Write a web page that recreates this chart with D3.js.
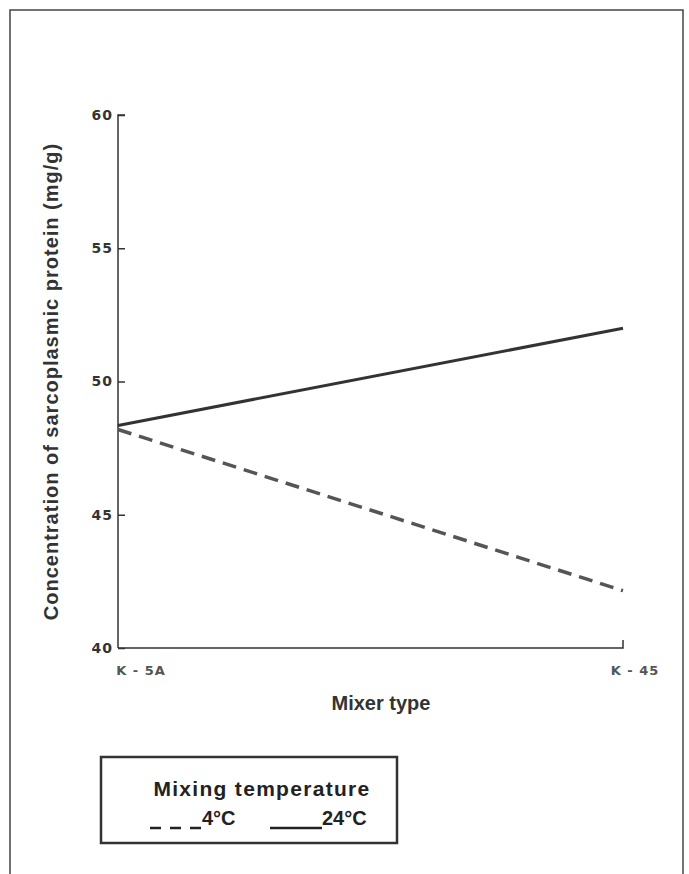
<!DOCTYPE html>
<html>
<head>
<meta charset="utf-8">
<script src="https://cdn.jsdelivr.net/npm/d3@7"></script>
<style>
  body { margin: 0; background: #fff; }
  svg { display: block; font-family: "Liberation Sans", Arial, sans-serif; }
</style>
</head>
<body>
<div id="chart"></div>
<script>
const mixers = ["K-5A", "K-45"];
const temp4 = [48.2, 42.15];
const temp24 = [48.35, 52.0];
const yTicks = [40, 45, 50, 55, 60];

const W = 689, H = 874;
const margin = { top: 115, right: 66, bottom: 226, left: 118 };

const svg = d3.select("#chart").append("svg")
    .attr("width", W)
    .attr("height", H);

// outer frame of the scanned figure
svg.append("path")
    .attr("d", `M10,${H} L10,10 L683,10 L683,${H}`)
    .attr("fill", "none")
    .attr("stroke", "#444")
    .attr("stroke-width", 1.5);

const x = d3.scalePoint()
    .domain(mixers)
    .range([margin.left, W - margin.right]);

const y = d3.scaleLinear()
    .domain([40, 60])
    .range([H - margin.bottom, margin.top]);

// y axis, ticks pointing inward
const yAxis = svg.append("g")
    .attr("transform", `translate(${margin.left},0)`)
    .call(d3.axisRight(y).tickValues(yTicks).tickSize(7));
yAxis.select(".domain").attr("stroke", "#333").attr("stroke-width", 1.5).attr("d", `M7,${y(60)}H0V${y(40)}`);
yAxis.selectAll(".tick line").attr("stroke", "#333").attr("stroke-width", 1.5);
yAxis.selectAll(".tick text")
    .attr("text-anchor", "end")
    .attr("x", -5)
    .attr("font-family", "DejaVu Sans")
    .attr("font-size", 14)
    .attr("font-weight", "bold")
    .attr("letter-spacing", 1)
    .attr("fill", "#333");

// x axis
const xAxis = svg.append("g")
    .attr("transform", `translate(0,${y(40)})`)
    .call(d3.axisTop(x).tickSize(0).tickFormat(""));
xAxis.select(".domain").attr("stroke", "#333").attr("stroke-width", 1.5)
    .attr("d", `M${margin.left},0H${W - margin.right}V-8`);

svg.append("g")
    .selectAll("text")
    .data(mixers)
    .join("text")
    .attr("x", (d, i) => x(d) + (i === 0 ? 23 : 12))
    .attr("y", y(40) + 27)
    .attr("text-anchor", "middle")
    .attr("font-family", "DejaVu Sans")
    .attr("font-size", 13)
    .attr("font-weight", "bold")
    .attr("letter-spacing", 1)
    .attr("fill", "#555")
    .text(d => d.replace("-", " - "));

// axis titles
svg.append("text")
    .attr("transform", `translate(58,${(y(40) + y(60)) / 2}) rotate(-90)`)
    .attr("text-anchor", "middle")
    .attr("font-size", 20)
    .attr("font-weight", "bold")
    .attr("letter-spacing", 1)
    .attr("fill", "#333")
    .text("Concentration of sarcoplasmic protein (mg/g)");

svg.append("text")
    .attr("x", 381)
    .attr("y", 710)
    .attr("text-anchor", "middle")
    .attr("font-size", 20)
    .attr("font-weight", "bold")
    .attr("fill", "#333")
    .text("Mixer type");

// lines
const line = d3.line()
    .x((d, i) => x(mixers[i]))
    .y(d => y(d));

svg.append("path")
    .datum(temp24)
    .attr("d", line)
    .attr("fill", "none")
    .attr("stroke", "#333")
    .attr("stroke-width", 3);

svg.append("path")
    .datum(temp4)
    .attr("d", line)
    .attr("fill", "none")
    .attr("stroke", "#555")
    .attr("stroke-width", 3.5)
    .attr("stroke-dasharray", "14,8");

// legend
const lg = svg.append("g");
lg.append("rect")
    .attr("x", 101).attr("y", 757)
    .attr("width", 296).attr("height", 86)
    .attr("fill", "none")
    .attr("stroke", "#333")
    .attr("stroke-width", 2.5);
lg.append("text")
    .attr("x", 262).attr("y", 796)
    .attr("text-anchor", "middle")
    .attr("font-size", 21)
    .attr("font-weight", "bold")
    .attr("letter-spacing", 1.3)
    .attr("fill", "#222")
    .text("Mixing temperature");
lg.append("line")
    .attr("x1", 150).attr("x2", 201).attr("y1", 828).attr("y2", 828)
    .attr("stroke", "#222").attr("stroke-width", 2.5)
    .attr("stroke-dasharray", "11,9");
lg.append("text")
    .attr("x", 202).attr("y", 825)
    .attr("font-size", 20).attr("font-weight", "bold").attr("fill", "#222")
    .text("4°C");
lg.append("line")
    .attr("x1", 270).attr("x2", 322).attr("y1", 828).attr("y2", 828)
    .attr("stroke", "#222").attr("stroke-width", 2.5);
lg.append("text")
    .attr("x", 322).attr("y", 825)
    .attr("font-size", 20).attr("font-weight", "bold").attr("fill", "#222")
    .text("24°C");
</script>
</body>
</html>
